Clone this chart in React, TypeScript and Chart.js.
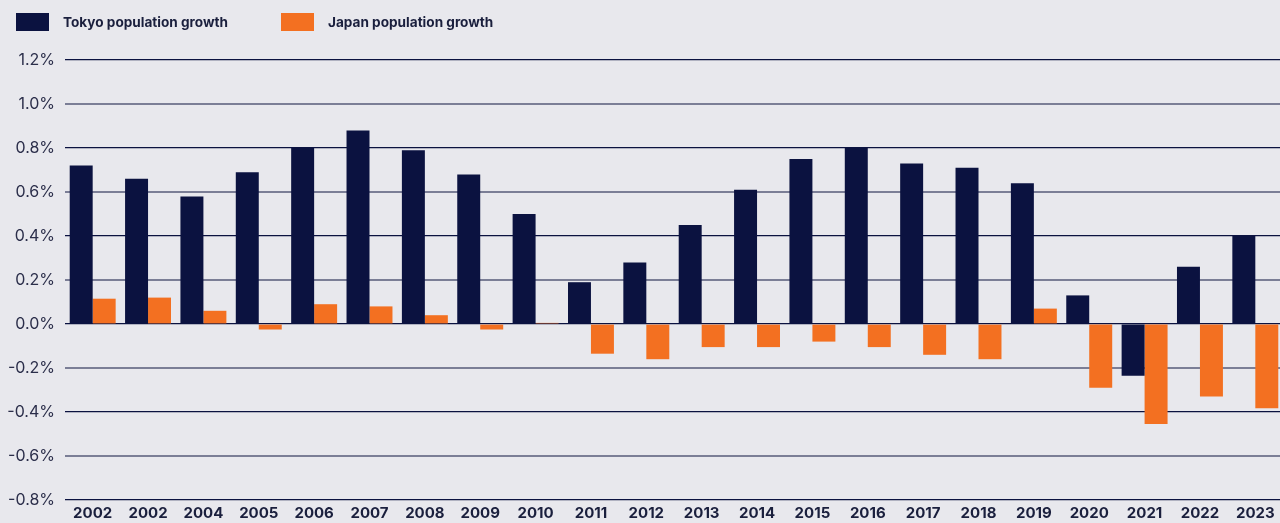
import React, { useEffect, useRef } from "react";
import { Chart, registerables } from "chart.js";

Chart.register(...registerables);

const years = ["2002", "2002", "2004", "2005", "2006", "2007", "2008", "2009", "2010", "2011", "2012", "2013", "2014", "2015", "2016", "2017", "2018", "2019", "2020", "2021", "2022", "2023"];
const tokyoGrowth = [0.72, 0.66, 0.58, 0.69, 0.8, 0.88, 0.79, 0.68, 0.5, 0.19, 0.28, 0.45, 0.61, 0.75, 0.8, 0.73, 0.71, 0.64, 0.13, -0.235, 0.26, 0.4];
const japanGrowth = [0.115, 0.12, 0.06, -0.025, 0.09, 0.08, 0.04, -0.025, 0.005, -0.135, -0.16, -0.105, -0.105, -0.08, -0.105, -0.14, -0.16, 0.07, -0.29, -0.455, -0.33, -0.383];
const seriesNames = ["Tokyo population growth", "Japan population growth"];

const NAVY = "#0b1240";
const ORANGE = "#f37021";
const BG = "#e8e8ed";
const FONT = "Inter, 'Noto Sans', sans-serif";

export default function App() {
  const ref = useRef<HTMLCanvasElement | null>(null);
  useEffect(() => {
    if (!ref.current) return;
    const chart = new Chart(ref.current, {
      type: "bar",
      data: {
        labels: years,
        datasets: [
          { label: seriesNames[0], data: tokyoGrowth, backgroundColor: NAVY, barPercentage: 1, categoryPercentage: 0.83 },
          { label: seriesNames[1], data: japanGrowth, backgroundColor: ORANGE, barPercentage: 1, categoryPercentage: 0.83 },
        ],
      },
      options: {
        animation: false,
        responsive: false,
        maintainAspectRatio: false,
        layout: { padding: { top: 60, bottom: 0, left: 0, right: 0 } },
        plugins: { legend: { display: false }, tooltip: { enabled: false } },
        scales: {
          x: {
            afterFit: (s: any) => { s.height = 23; },
            grid: { display: false, drawTicks: false },
            border: { display: false },
            ticks: { color: "#1a1f3d", font: { family: FONT, size: 15, weight: "bold" }, padding: 4, maxRotation: 0, autoSkip: false },
          },
          y: {
            min: -0.8,
            max: 1.2,
            afterFit: (s: any) => { s.width = 65; },
            border: { display: false },
            grid: {
              drawTicks: false,
              color: (ctx: any) => (ctx.index % 2 === 0 ? NAVY : "#7b7e96"),
              lineWidth: (ctx: any) => (ctx.index % 2 === 0 ? 1.2 : 2),
            },
            ticks: {
              stepSize: 0.2,
              padding: 10,
              color: "#2b2e4a",
              font: { family: FONT, size: 16 },
              callback: (v: any) => Number(v).toFixed(1) + "%",
            },
          },
        },
      },
    });
    return () => chart.destroy();
  }, []);

  const legendItem = (color: string, text: string, left: number) => (
    <div style={{ position: "absolute", left, top: 12, display: "flex", alignItems: "center", height: 19 }}>
      <div style={{ width: 33, height: 18, background: color }} />
      <span style={{ marginLeft: 14, fontFamily: FONT, fontWeight: 700, fontSize: 13.6, color: "#1a1f3d", whiteSpace: "nowrap" }}>{text}</span>
    </div>
  );

  return (
    <div style={{ position: "fixed", left: 0, top: 0, width: 1280, height: 523, overflow: "hidden", background: BG }}>
      <canvas ref={ref} width={1283} height={523} style={{ position: "absolute", left: 0, top: 0, width: 1283, height: 523 }} />
      {legendItem(NAVY, seriesNames[0], 16)}
      {legendItem(ORANGE, seriesNames[1], 281)}
    </div>
  );
}
